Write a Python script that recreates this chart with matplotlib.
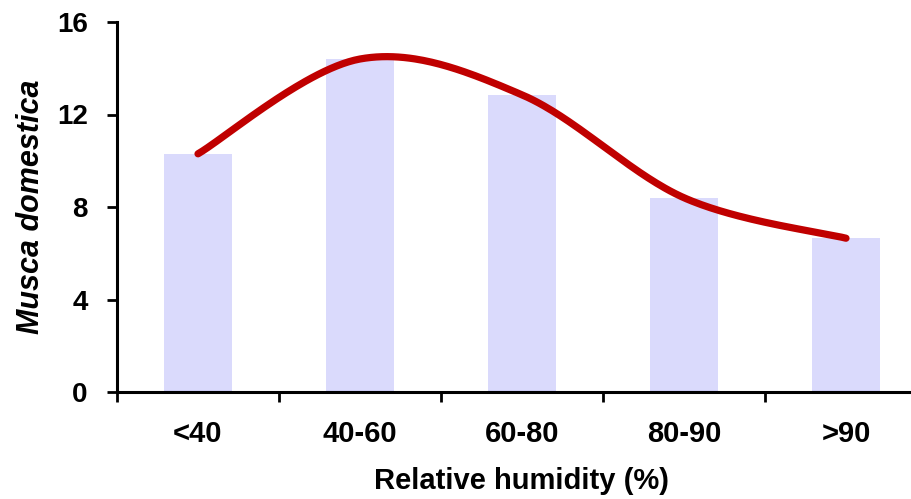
import numpy as np
import matplotlib
matplotlib.use("Agg")
import matplotlib.pyplot as plt
from matplotlib.ticker import FixedLocator, NullFormatter

categories = ["<40", "40-60", "60-80", "80-90", ">90"]
counts = [10.3, 14.4, 12.85, 8.4, 6.65]
yticks = [0, 4, 8, 12, 16]

plt.rcParams['font.family'] = ['Liberation Sans', 'DejaVu Sans']

fig = plt.figure(figsize=(9.11, 4.99), dpi=100)
ax = fig.add_axes([117/911, 107/499, 810/911, 370/499])

x = np.arange(len(categories))
bw = 0.42
ax.bar(x, counts, width=bw, color="#dadafc", edgecolor="none", zorder=1)
ax.hlines([0]*len(x), x - bw/2, x + bw/2, colors="#2020e0", linewidth=1.5, zorder=2)

# Excel-style smoothed line (cubic Bezier through the points)
pts = np.column_stack([x, counts]).astype(float)
n = len(pts)
curve = []
t = np.linspace(0, 1, 60)
for i in range(n - 1):
    p0 = pts[i]
    p3 = pts[i + 1]
    pm = pts[i - 1] if i > 0 else pts[i]
    pn = pts[i + 2] if i + 2 < n else pts[i + 1]
    c1 = p0 + (p3 - pm) / 6.0
    c2 = p3 - (pn - p0) / 6.0
    seg = ((1 - t)[:, None] ** 3 * p0 + 3 * (1 - t)[:, None] ** 2 * t[:, None] * c1
           + 3 * (1 - t)[:, None] * t[:, None] ** 2 * c2 + t[:, None] ** 3 * p3)
    curve.append(seg)
curve = np.vstack(curve)
ax.plot(curve[:, 0], curve[:, 1], color="#c00000", linewidth=5.2,
        solid_capstyle="round", zorder=3)

ax.set_xlim(-0.5, len(categories) - 0.5)
ax.set_ylim(0, 16)
ax.set_yticks(yticks)
ax.set_yticklabels([str(v) for v in yticks], fontsize=20, fontweight="bold")

ax.xaxis.set_major_locator(FixedLocator(np.arange(-0.5, len(categories), 1.0)))
ax.xaxis.set_major_formatter(NullFormatter())
ax.xaxis.set_minor_locator(FixedLocator(x))
ax.set_xticklabels(categories, minor=True, fontsize=21, fontweight="bold")
ax.tick_params(axis="x", which="minor", length=0, pad=20)
ax.tick_params(axis="x", which="major", length=7, width=2, direction="out")
ax.tick_params(axis="y", length=7, width=2, direction="out", pad=14)

for s in ["top", "right"]:
    ax.spines[s].set_visible(False)
for s in ["left", "bottom"]:
    ax.spines[s].set_linewidth(2.2)
ax.spines["bottom"].set_zorder(4)

ax.set_ylabel("Musca domestica", fontsize=22, fontweight="bold", style="italic", labelpad=8)
ax.set_xlabel("Relative humidity (%)", fontsize=21, fontweight="bold", labelpad=14)

fig.savefig("out.png", dpi=100)
